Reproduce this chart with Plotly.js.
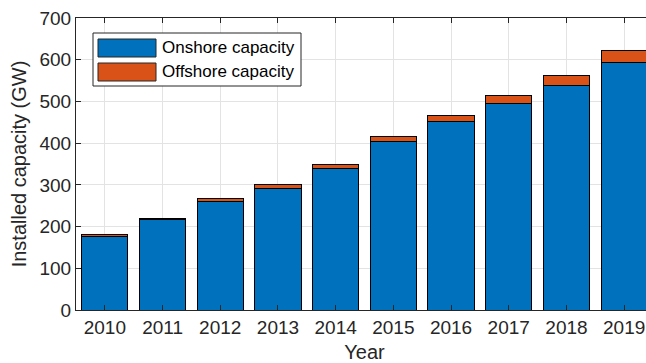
<!DOCTYPE html>
<html>
<head>
<meta charset="utf-8">
<script src="https://cdn.plot.ly/plotly-3.0.1.min.js"></script>
<style>html,body{margin:0;padding:0;background:#fff;overflow:hidden}</style>
</head>
<body>
<div id="chart"></div>
<script>
const years = [2010, 2011, 2012, 2013, 2014, 2015, 2016, 2017, 2018, 2019];
const onshore = [177, 216, 261, 292, 340, 404, 452, 495, 539, 594];
const offshore = [4, 4, 7, 8, 9, 12, 15, 19, 24, 29];
const seriesNames = ['Onshore capacity', 'Offshore capacity'];
const colors = ['#0072BD', '#D95319'];

const W = 680, H = 363;
const M = {l: 76, r: 27, t: 18, b: 53};
const pw = W - M.l - M.r, ph = H - M.t - M.b;
const px = x => (x - M.l) / pw;
const py = y => (H - M.b - y) / ph;
const font = 'Liberation Sans, Arial, Helvetica, sans-serif';
const ink = '#262626';

const traces = [
  {type: 'bar', x: years, y: onshore, name: seriesNames[0], width: 0.8,
   marker: {color: colors[0], line: {color: '#000', width: 1}}, showlegend: false},
  {type: 'bar', x: years, y: offshore, name: seriesNames[1], width: 0.8,
   marker: {color: colors[1], line: {color: '#000', width: 1}}, showlegend: false}
];

const shapes = [
  {type: 'rect', xref: 'paper', yref: 'paper', x0: px(93), x1: px(301), y0: py(86), y1: py(33),
   line: {color: ink, width: 1}, fillcolor: '#fff', layer: 'above'},
  {type: 'rect', xref: 'paper', yref: 'paper', x0: px(98), x1: px(156), y0: py(57), y1: py(39),
   line: {color: ink, width: 1}, fillcolor: colors[0], layer: 'above'},
  {type: 'rect', xref: 'paper', yref: 'paper', x0: px(98), x1: px(156), y0: py(81), y1: py(63),
   line: {color: ink, width: 1}, fillcolor: colors[1], layer: 'above'}
];
const annotations = [
  {xref: 'paper', yref: 'paper', x: px(160), y: py(48), xanchor: 'left', yanchor: 'middle',
   text: seriesNames[0], showarrow: false, font: {family: font, size: 17, color: '#000'}},
  {xref: 'paper', yref: 'paper', x: px(160), y: py(72), xanchor: 'left', yanchor: 'middle',
   text: seriesNames[1], showarrow: false, font: {family: font, size: 17, color: '#000'}}
];

const layout = {
  width: W, height: H,
  margin: M,
  barmode: 'stack',
  paper_bgcolor: '#fff', plot_bgcolor: '#fff',
  font: {family: font, size: 19, color: ink},
  xaxis: {
    range: [2009.5, 2019.5], tickvals: years, ticktext: years.map(String),
    ticks: 'inside', ticklen: 5, tickcolor: ink, tickwidth: 1,
    showline: true, linecolor: ink, linewidth: 1, mirror: 'ticks',
    showgrid: true, gridcolor: '#e3e3e3', gridwidth: 1, zeroline: false,
    tickfont: {family: font, size: 19, color: ink},
    title: {text: 'Year', font: {family: font, size: 20, color: ink}, standoff: 9},
    automargin: false
  },
  yaxis: {
    range: [0, 700], tickvals: [0, 100, 200, 300, 400, 500, 600, 700],
    ticks: 'inside', ticklen: 5, tickcolor: ink, tickwidth: 1,
    showline: true, linecolor: ink, linewidth: 1, mirror: 'ticks',
    showgrid: true, gridcolor: '#e3e3e3', gridwidth: 1, zeroline: false,
    tickfont: {family: font, size: 19, color: ink},
    title: {text: 'Installed capacity (GW)', font: {family: font, size: 20, color: ink}, standoff: 7},
    automargin: false
  },
  shapes: shapes,
  annotations: annotations
};

Plotly.newPlot('chart', traces, layout, {displayModeBar: false, staticPlot: true});
</script>
</body>
</html>
